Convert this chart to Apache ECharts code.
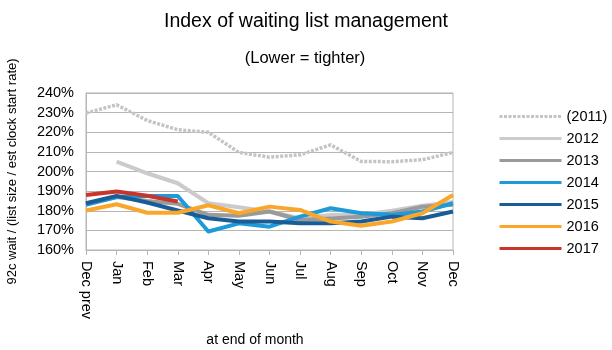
<!DOCTYPE html>
<html>
<head>
<meta charset="utf-8">
<script src="https://cdn.jsdelivr.net/npm/echarts@6/dist/echarts.min.js"></script>
<style>
  html, body { margin: 0; padding: 0; background: #fff; }
  #main { width: 612px; height: 350px; }
</style>
</head>
<body>
<div id="main"></div>
<script>
var months = ["Dec prev", "Jan", "Feb", "Mar", "Apr", "May", "Jun", "Jul", "Aug", "Sep", "Oct", "Nov", "Dec"];

var y2011 = [229.8, 234.0, 226.0, 221.3, 220.0, 209.7, 207.3, 208.5, 213.6, 205.1, 205.0, 206.0, 209.7];
var y2012 = [null, 205.0, 199.1, 194.0, 183.8, 181.8, 179.6, 176.2, 177.9, 178.0, 180.0, 182.5, 184.5];
var y2013 = [183.5, 187.0, 185.0, 183.5, 177.9, 177.4, 179.6, 175.3, 176.0, 177.0, 178.7, 182.0, 183.0];
var y2014 = [183.0, 187.0, 187.5, 187.5, 169.4, 173.6, 171.9, 177.0, 181.3, 178.7, 177.9, 179.6, 183.8];
var y2015 = [183.8, 187.6, 184.2, 180.1, 176.2, 174.5, 174.5, 173.6, 173.6, 174.5, 177.0, 176.2, 179.6];
var y2016 = [180.1, 183.3, 179.0, 179.0, 182.8, 178.7, 182.1, 180.4, 174.5, 172.4, 174.5, 178.7, 188.0];
var y2017 = [188.0, 189.8, 187.6, 184.7, null, null, null, null, null, null, null, null, null];

var seriesNames = ["(2011)", "2012", "2013", "2014", "2015", "2016", "2017"];
var seriesData = [y2011, y2012, y2013, y2014, y2015, y2016, y2017];
var seriesColors = ["#c4c4c4", "#cbcbcb", "#9a9a9a", "#1f9ad8", "#1a5d96", "#f9a62a", "#c9352a"];

var myChart = echarts.init(document.getElementById("main"));

var series = [];
for (var i = 0; i < seriesNames.length; i++) {
  series.push({
    name: seriesNames[i],
    type: "line",
    data: seriesData[i],
    symbol: "none",
    z: 10 + i,
    lineStyle: {
      color: seriesColors[i],
      width: i === 0 ? 3.5 : 4,
      type: i === 0 ? [3, 1.5] : "solid",
      join: "round"
    },
    itemStyle: { color: seriesColors[i] }
  });
}

var option = {
  textStyle: { fontFamily: "Liberation Sans, Arial, sans-serif" },
  animation: false,
  title: [
    {
      text: "Index of waiting list management",
      left: 301,
      top: 7,
      textAlign: "center",
      textStyle: { fontSize: 19.5, fontWeight: "normal", color: "#000" }
    },
    {
      text: "(Lower = tighter)",
      left: 300,
      top: 45,
      textAlign: "center",
      textStyle: { fontSize: 16.5, fontWeight: "normal", color: "#000" }
    },
    {
      text: "at end of month",
      left: 250,
      top: 328,
      textAlign: "center",
      textStyle: { fontSize: 14, fontWeight: "normal", color: "#000" }
    }
  ],
  legend: {
    orient: "vertical",
    left: 493,
    top: 104,
    itemWidth: 62,
    itemHeight: 14,
    itemGap: 7,
    data: seriesNames,
    itemStyle: { opacity: 0, color: "rgba(0,0,0,0)", borderWidth: 0 },
    lineStyle: { width: 3 },
    textStyle: { fontSize: 14.5, color: "#000" }
  },
  grid: {
    left: 86,
    right: 159,
    top: 93,
    bottom: 100,
    outerBoundsMode: "none",
    containLabel: false,
    show: true,
    borderColor: "#b5b5b5",
    borderWidth: 1
  },
  xAxis: {
    type: "category",
    data: months,
    boundaryGap: false,
    axisLine: { lineStyle: { color: "#b5b5b5" } },
    axisTick: { show: true, length: 5, lineStyle: { color: "#b5b5b5" } },
    axisLabel: { rotate: -90, fontSize: 14.5, color: "#000", margin: 11, interval: 0 },
    splitLine: { show: false }
  },
  yAxis: {
    type: "value",
    min: 160,
    max: 240,
    interval: 10,
    name: "92c wait / (list size / est clock start rate)",
    nameLocation: "middle",
    nameGap: 67,
    nameTextStyle: { fontSize: 13, color: "#000" },
    axisLine: { show: true, lineStyle: { color: "#b5b5b5" } },
    axisTick: { show: false },
    axisLabel: {
      fontSize: 14.5,
      color: "#000",
      margin: 12,
      formatter: function (v) { return v + "%"; }
    },
    splitLine: { lineStyle: { color: "#b5b5b5" } }
  },
  series: series
};

myChart.setOption(option);
</script>
</body>
</html>
